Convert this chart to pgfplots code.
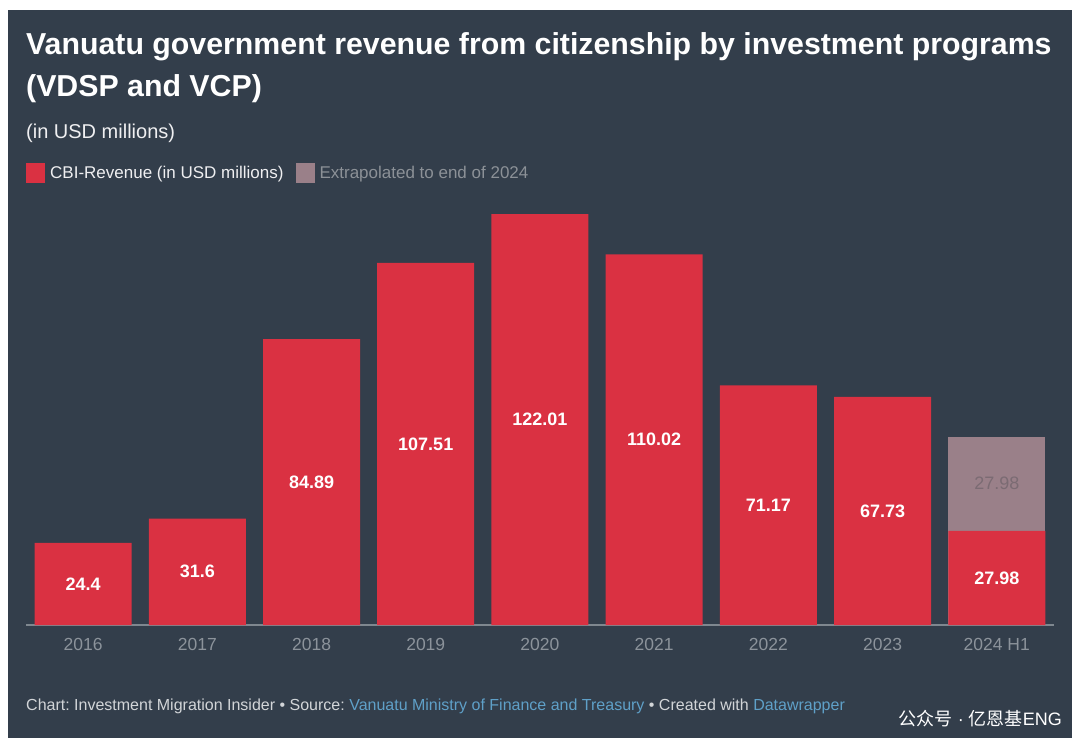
\documentclass[border=0pt]{standalone}
\usepackage{pgfplots}
\pgfplotsset{compat=1.18}
\usepackage{fontspec}
\setmainfont{Liberation Sans}
\newfontfamily\cjk{Noto Sans CJK SC}
\frenchspacing
\definecolor{bgc}{HTML}{333E4B}
\definecolor{barred}{HTML}{DA3142}
\definecolor{bargray}{HTML}{9A8089}
\definecolor{graylab}{HTML}{7B6B73}
\definecolor{axisc}{HTML}{7F878F}
\definecolor{tickc}{HTML}{8C939B}
\definecolor{legc}{HTML}{8C9197}
\definecolor{footc}{HTML}{D2D5D8}
\definecolor{linkc}{HTML}{5FA0C8}
\begin{document}
\begin{tikzpicture}[x=1pt,y=1pt]
\fill[white] (0,0) rectangle (1080,748);
\fill[bgc] (8,10) rectangle (1072,738);
\node[anchor=base west, inner sep=0pt, text=white, font=\fontsize{30.3}{36}\selectfont\bfseries] at (26,693) {Vanuatu government revenue from citizenship by investment programs};
\node[anchor=base west, inner sep=0pt, text=white, font=\fontsize{30.3}{36}\selectfont\bfseries] at (26,651) {(VDSP and VCP)};
\node[anchor=base west, inner sep=0pt, text=white!92!bgc, font=\fontsize{20}{23}\selectfont] at (26,609) {(in USD millions)};
\node[anchor=base west, inner sep=0pt, font=\fontsize{16}{18}\selectfont] at (26,38) {\frenchspacing\color{footc}Chart: Investment Migration Insider • Source:\ \color{linkc}Vanuatu Ministry of Finance and Treasury\ \color{footc}• Created with\ \color{linkc}Datawrapper};
\node[anchor=base east, inner sep=0pt, text=white, font=\fontsize{18}{20}\selectfont] at (1062,23) {{\cjk 公众号} · {\cjk 亿恩基}ENG};
\begin{axis}[
  at={(26pt,123pt)}, anchor=south west,
  scale only axis, width=1028pt, height=437.9pt,
  xmin=-0.5, xmax=8.5, ymin=0, ymax=130,
  enlargelimits=false, clip=false,
  axis x line*=bottom, axis y line=none,
  x axis line style={draw=axisc, line width=1.5pt},
  xtick={0,...,8},
  xticklabels={2016,2017,2018,2019,2020,2021,2022,2023,2024 H1},
  major tick length=0pt, xtick style={draw=none},
  xticklabel style={anchor=base, yshift=-25pt, text=tickc, font=\fontsize{17.5}{20}\selectfont},
  legend style={at={(axis description cs:0,1.032)}, anchor=west, draw=none, fill=none,
    inner sep=0pt, font=\fontsize{17}{20}\selectfont, legend columns=2,
    /tikz/every odd column/.style={column sep=3pt},
    /tikz/every even column/.style={column sep=10pt}},
  legend image code/.code={\fill[#1] (0pt,-10pt) rectangle (19pt,10pt);},
]
\addlegendimage{fill=barred, draw=none}
\addlegendentry{\textcolor{white!92!bgc}{CBI-Revenue (in USD millions)}}
\addplot[ybar, bar width=97pt, bar shift=0pt, fill=bargray, draw=none] coordinates {(8,55.96)};
\addlegendentry{\textcolor{legc}{Extrapolated to end of 2024}}
\addplot[forget plot, ybar, bar width=97pt, bar shift=0pt, fill=barred, draw=none] coordinates {
 (0,24.4) (1,31.6) (2,84.89) (3,107.51) (4,122.01) (5,110.02) (6,71.17) (7,67.73) (8,27.98)};
\addplot[forget plot, only marks, mark=*, mark size=0pt, mark options={draw=none,fill=none},
  nodes near coords, point meta=explicit symbolic,
  nodes near coords style={anchor=center, text=white, font=\fontsize{18}{20}\selectfont\bfseries}]
  coordinates {(0,12.2)[24.4] (1,15.8)[31.6] (2,42.445)[84.89] (3,53.755)[107.51] (4,61.005)[122.01]
  (5,55.01)[110.02] (6,35.585)[71.17] (7,33.865)[67.73] (8,13.99)[27.98]};
\addplot[forget plot, only marks, mark=*, mark size=0pt, mark options={draw=none,fill=none},
  nodes near coords, point meta=explicit symbolic,
  nodes near coords style={anchor=center, text=graylab, font=\fontsize{18}{20}\selectfont}]
  coordinates {(8,41.97)[27.98]};
\end{axis}
\end{tikzpicture}
\end{document}
